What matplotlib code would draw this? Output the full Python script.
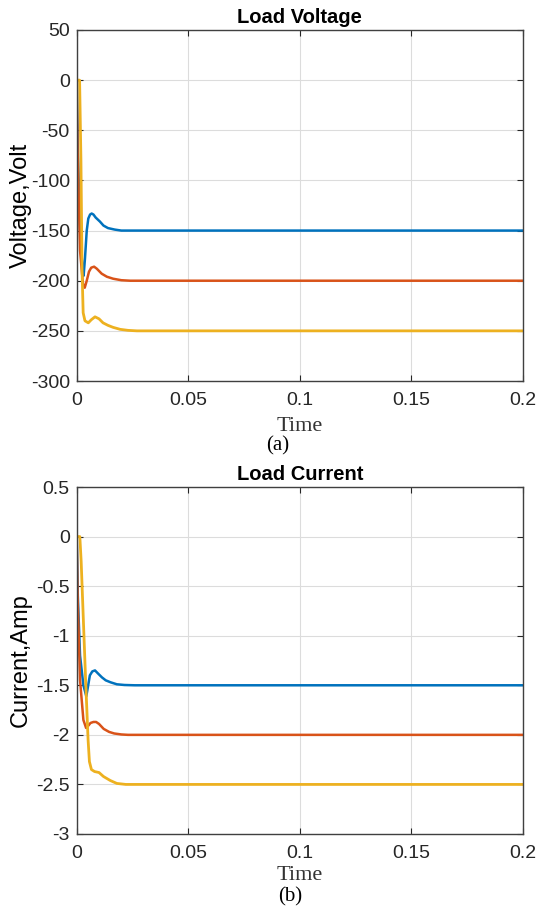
import numpy as np
import matplotlib
matplotlib.use('Agg')
import matplotlib.pyplot as plt

# --- Data ---
# Load voltage, three load cases
t_v_blue = [0, 0.0004, 0.0015, 0.0025, 0.0031, 0.0037, 0.0045, 0.0052, 0.0060, 0.0067, 0.0075,
            0.0085, 0.0104, 0.0120, 0.0140, 0.0170, 0.0200, 0.0250, 0.2]
v_blue = [0, -60, -150, -185, -195, -178, -150, -138, -134, -133, -134,
          -137, -141, -145, -147.5, -149, -150, -150, -150]

t_v_orange = [0, 0.0004, 0.0015, 0.0028, 0.0036, 0.0045, 0.0055, 0.0065, 0.0078, 0.0090,
              0.0112, 0.0135, 0.0163, 0.0200, 0.0240, 0.2]
v_orange = [0, -70, -170, -203, -207, -200, -191, -187, -186, -188,
            -193, -196, -198, -199.5, -200, -200]

t_v_yellow = [0, 0.0013, 0.0019, 0.0024, 0.0029, 0.0037, 0.0052, 0.0065, 0.0082, 0.0100,
              0.0118, 0.0140, 0.0163, 0.0195, 0.0230, 0.0270, 0.2]
v_yellow = [0, 0, -80, -190, -232, -240, -242, -239, -236, -238,
            -242, -244.5, -246.5, -248.5, -249.5, -250, -250]

# Load current, three load cases
t_i_blue = [0, 0.0005, 0.0015, 0.0030, 0.0043, 0.0050, 0.0059, 0.0070, 0.0082, 0.0095,
            0.0113, 0.0130, 0.0152, 0.0180, 0.0214, 0.0260, 0.2]
i_blue = [0, -0.6, -1.2, -1.5, -1.61, -1.52, -1.40, -1.36, -1.35, -1.38,
          -1.42, -1.45, -1.47, -1.49, -1.497, -1.5, -1.5]

t_i_orange = [0, 0.0005, 0.0015, 0.0030, 0.0042, 0.0051, 0.0062, 0.0075, 0.0087, 0.0100,
              0.0121, 0.0145, 0.0168, 0.0200, 0.0230, 0.2]
i_orange = [0, -0.7, -1.45, -1.85, -1.93, -1.91, -1.88, -1.87, -1.87, -1.89,
            -1.94, -1.97, -1.986, -1.996, -2.0, -2.0]

t_i_yellow = [0, 0.0014, 0.0020, 0.0025, 0.0030, 0.0035, 0.0040, 0.0045, 0.0051, 0.0057,
              0.0066, 0.0080, 0.0100, 0.0120, 0.0150, 0.0180, 0.0220, 0.2]
i_yellow = [0, 0, -0.25, -0.55, -0.85, -1.15, -1.45, -1.72, -2.05, -2.27,
            -2.35, -2.37, -2.38, -2.42, -2.46, -2.49, -2.5, -2.5]

x_ticks = [0, 0.05, 0.1, 0.15, 0.2]
x_labels = ['0', '0.05', '0.1', '0.15', '0.2']
v_ticks = [-300, -250, -200, -150, -100, -50, 0, 50]
v_labels = ['-300', '-250', '-200', '-150', '-100', '-50', '0', '50']
i_ticks = [-3, -2.5, -2, -1.5, -1, -0.5, 0, 0.5]
i_labels = ['-3', '-2.5', '-2', '-1.5', '-1', '-0.5', '0', '0.5']

BLUE = '#0072BD'
ORANGE = '#D95319'
YELLOW = '#EDB120'
AX_COLOR = '#262626'
SERIF = ['Liberation Serif', 'DejaVu Serif']

plt.rcParams['font.family'] = ['Liberation Sans', 'DejaVu Sans']

W, H = 539, 907
fig = plt.figure(figsize=(W / 100, H / 100), dpi=100)
AX_LEFT, AX_RIGHT = 76.7, 523


def px_axes(top, bottom):
    return fig.add_axes([AX_LEFT / W, 1 - bottom / H, (AX_RIGHT - AX_LEFT) / W, (bottom - top) / H])


def style_axes(ax, yticks, ylabels, ylim):
    ax.set_xlim(0, 0.2)
    ax.set_ylim(*ylim)
    ax.set_xticks(x_ticks)
    ax.set_xticklabels(x_labels)
    ax.set_yticks(yticks)
    ax.set_yticklabels(ylabels)
    ax.grid(True, color='#dcdcdc', linewidth=0.8)
    ax.set_axisbelow(True)
    ax.tick_params(direction='in', length=4, width=0.8, colors=AX_COLOR,
                   top=True, right=True, labelsize=14, pad=5)
    ax.tick_params(axis='x', pad=8)
    for sp in ax.spines.values():
        sp.set_color('#404040')
        sp.set_linewidth(1.0)
    # ylabel right edge sits ~32 px from the figure edge
    ax.yaxis.set_label_coords(-(AX_LEFT - 32) / (AX_RIGHT - AX_LEFT), 0.5)


# --- (a) Load Voltage ---
ax1 = px_axes(30, 381)
ax1.plot(t_v_blue, v_blue, color=BLUE, lw=1.8)
ax1.plot(t_v_orange, v_orange, color=ORANGE, lw=1.8)
ax1.plot(t_v_yellow, v_yellow, color=YELLOW, lw=2.0)
style_axes(ax1, v_ticks, v_labels, (-300, 50))
ax1.set_title('Load Voltage', fontsize=14.5, fontweight='bold', pad=5)
ax1.set_ylabel('Voltage,Volt', fontsize=17)
ax1.set_xlabel('Time', family=SERIF, fontsize=16, color='#333333', labelpad=6)
fig.text(278 / W, 1 - 446 / H, '(a)', family=SERIF, fontsize=15, ha='center', va='center')

# --- (b) Load Current ---
ax2 = px_axes(487, 834)
ax2.plot(t_i_blue, i_blue, color=BLUE, lw=1.8)
ax2.plot(t_i_orange, i_orange, color=ORANGE, lw=1.8)
ax2.plot(t_i_yellow, i_yellow, color=YELLOW, lw=2.0)
style_axes(ax2, i_ticks, i_labels, (-3, 0.5))
ax2.set_title('Load Current', fontsize=14.5, fontweight='bold', pad=5)
ax2.set_ylabel('Current,Amp', fontsize=17)
ax2.set_xlabel('Time', family=SERIF, fontsize=16, color='#333333', labelpad=3)
fig.text(290 / W, 1 - 897 / H, '(b)', family=SERIF, fontsize=15, ha='center', va='center')

fig.savefig('out.png', dpi=100)
